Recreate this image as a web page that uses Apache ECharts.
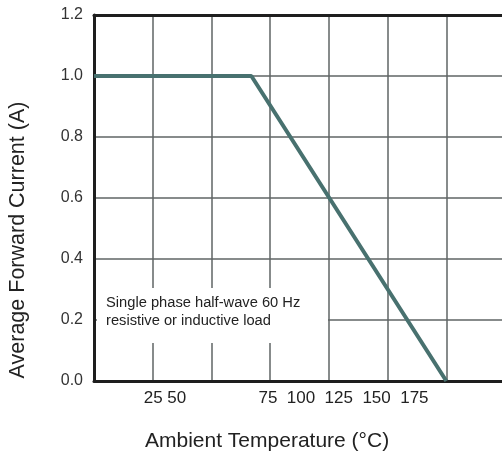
<!DOCTYPE html>
<html>
<head>
<meta charset="utf-8">
<script src="https://cdn.jsdelivr.net/npm/echarts@6/dist/echarts.min.js"></script>
<style>
html,body{margin:0;padding:0;background:#fff;}
#chart{width:502px;height:459px;}
</style>
</head>
<body>
<div id="chart"></div>
<script>
// Data
const temperature = [25, 92, 175];      // Ambient temperature (°C)
const current = [1.0, 1.0, 0.0];        // Average forward current (A)
const xTickGroups = ['25 50', '75  100  125  150  175'];
const xAxisTitle = 'Ambient Temperature (°C)';
const yAxisTitle = 'Average Forward Current (A)';
const noteLines = ['Single phase half-wave 60 Hz', 'resistive or inductive load'];

const chart = echarts.init(document.getElementById('chart'), null, {renderer: 'canvas'});
const FONT = '"Liberation Sans", Arial, sans-serif';
const gridLine = {show: true, lineStyle: {color: '#5f6464', width: 1.5}};
const darkLine = {show: true, lineStyle: {color: '#1e1e1e', width: 3}};

const option = {
  animation: false,
  backgroundColor: '#fff',
  grid: {left: 94, top: 15, right: 0, height: 366, show: false},
  xAxis: [{
    type: 'value', min: 25, max: 198.7, interval: 25,
    axisLine: darkLine, axisTick: {show: false}, axisLabel: {show: false},
    splitLine: {show: true, showMaxLine: false, lineStyle: {color: '#5f6464', width: 1.5}}
  }, {
    type: 'value', position: 'top', min: 25, max: 198.7, interval: 25,
    axisLine: darkLine, axisTick: {show: false}, axisLabel: {show: false},
    splitLine: {show: false}
  }],
  yAxis: {
    type: 'value', min: 0, max: 1.2, interval: 0.2,
    axisLine: darkLine,
    axisTick: {show: false},
    axisLabel: {
      show: true, margin: 11, fontSize: 16, color: '#333', fontFamily: FONT,
      padding: [0, 0, 4, 0],
      formatter: v => v.toFixed(1)
    },
    splitLine: gridLine
  },
  series: [{
    type: 'line',
    data: temperature.map((t, i) => [t, current[i]]),
    symbol: 'none',
    lineStyle: {color: '#48716f', width: 4},
    z: 5
  }],
  graphic: [
    {type: 'rect', z: 10, shape: {x: 97, y: 288, width: 231, height: 55}, style: {fill: '#fff'}},
    {type: 'text', z: 11, left: 106, top: 294,
      style: {text: noteLines.join('\n'), font: '14.7px ' + FONT, fill: '#222', lineHeight: 18}},
    {type: 'text', z: 11, x: 165, y: 398,
      style: {text: xTickGroups[0], font: '17px ' + FONT, fill: '#222', align: 'center', verticalAlign: 'middle'}},
    {type: 'text', z: 11, x: 343.5, y: 398,
      style: {text: xTickGroups[1], font: '17px ' + FONT, fill: '#222', align: 'center', verticalAlign: 'middle'}},
    {type: 'text', z: 11, x: 145, y: 441,
      style: {text: xAxisTitle, font: '21px ' + FONT, fill: '#222', align: 'left', verticalAlign: 'middle'}},
    {type: 'text', z: 11, x: 18, y: 240, rotation: Math.PI / 2,
      style: {text: yAxisTitle, font: '21.5px ' + FONT, fill: '#222', align: 'center', verticalAlign: 'middle'}}
  ]
};
chart.setOption(option);
</script>
</body>
</html>
